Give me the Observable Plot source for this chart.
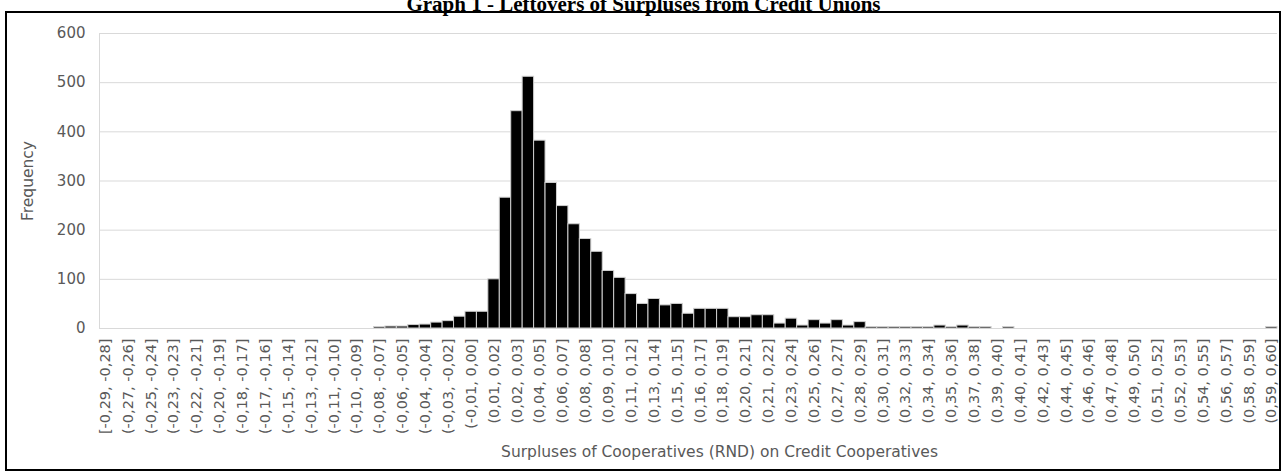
<!DOCTYPE html>
<html>
<head>
<meta charset="utf-8">
<script src="https://cdn.jsdelivr.net/npm/d3@7"></script>
<script src="https://cdn.jsdelivr.net/npm/@observablehq/plot@0.6"></script>
<style>
  html, body { margin: 0; padding: 0; background: #fff; overflow: hidden; }
  #wrap { position: relative; width: 1283px; height: 472px; overflow: hidden; background: #fff; }
  #chart { position: absolute; left: 0; top: 0; }
  #frame { position: absolute; left: 5px; top: 11px; width: 1276px; height: 460px; border: 2px solid #000; box-sizing: border-box; pointer-events: none; }
  #title { position: absolute; left: 2px; width: 1283px; top: -6px; text-align: center; font: bold 21px "Liberation Serif", "Times New Roman", serif; color: #000; line-height: 21px; white-space: nowrap; }
</style>
</head>
<body>
<div id="wrap">
  <div id="chart"></div>
  <div id="frame"></div>
  <div id="title">Graph 1 - Leftovers of Surpluses from Credit Unions</div>
</div>
<script>
// Visible category labels (Excel shows every other bin label)
const binLabels = [
  "[-0,29, -0,28]", "(-0,27, -0,26]", "(-0,25, -0,24]", "(-0,23, -0,23]", "(-0,22, -0,21]",
  "(-0,20, -0,19]", "(-0,18, -0,17]", "(-0,17, -0,16]", "(-0,15, -0,14]", "(-0,13, -0,12]",
  "(-0,11, -0,10]", "(-0,10, -0,09]", "(-0,08, -0,07]", "(-0,06, -0,05]", "(-0,04, -0,04]",
  "(-0,03, -0,02]", "(-0,01, 0,00]", "(0,01, 0,02]", "(0,02, 0,03]", "(0,04, 0,05]",
  "(0,06, 0,07]", "(0,08, 0,08]", "(0,09, 0,10]", "(0,11, 0,12]", "(0,13, 0,14]",
  "(0,15, 0,15]", "(0,16, 0,17]", "(0,18, 0,19]", "(0,20, 0,21]", "(0,21, 0,22]",
  "(0,23, 0,24]", "(0,25, 0,26]", "(0,27, 0,27]", "(0,28, 0,29]", "(0,30, 0,31]",
  "(0,32, 0,33]", "(0,34, 0,34]", "(0,35, 0,36]", "(0,37, 0,38]", "(0,39, 0,40]",
  "(0,40, 0,41]", "(0,42, 0,43]", "(0,44, 0,45]", "(0,46, 0,46]", "(0,47, 0,48]",
  "(0,49, 0,50]", "(0,51, 0,52]", "(0,52, 0,53]", "(0,54, 0,55]", "(0,56, 0,57]",
  "(0,58, 0,59]", "(0,59, 0,60]"
];

// Frequency of each of the 103 bins (left to right)
const frequency = [
  0, 0, 0, 0, 0, 0, 0, 0, 0, 0,
  0, 0, 0, 0, 0, 0, 0, 0, 0, 0,
  0, 0, 0, 0, 3, 4, 4, 7, 8, 12,
  15, 24, 34, 34, 100, 266, 442, 512, 382, 296,
  249, 212, 182, 156, 117, 103, 70, 50, 60, 47,
  50, 30, 40, 40, 40, 23, 23, 27, 27, 10,
  20, 6, 17, 10, 17, 6, 13, 3, 3, 3,
  3, 3, 3, 6, 3, 6, 3, 3, 0, 3,
  0, 0, 0, 0, 0, 0, 0, 0, 0, 0,
  0, 0, 0, 0, 0, 0, 0, 0, 0, 0,
  0, 0, 3
];

const yTicks = [0, 100, 200, 300, 400, 500, 600];

const data = frequency.map((count, bin) => ({bin, count}));
const binDomain = data.map(d => d.bin);
const labelledBins = binDomain.filter(b => b % 2 === 0);

const textColor = "#595959";

const chart = Plot.plot({
  width: 1283,
  height: 472,
  marginLeft: 99,
  marginRight: 6,
  marginTop: 33,
  marginBottom: 144,
  style: {fontFamily: "'DejaVu Sans', sans-serif", color: textColor, background: "transparent"},
  x: {type: "band", domain: binDomain, padding: 0},
  y: {domain: [0, 600]},
  marks: [
    Plot.gridY(yTicks, {stroke: "#d9d9d9", strokeOpacity: 1, strokeWidth: 1}),
    Plot.frame({anchor: "left", stroke: "#d9d9d9", strokeOpacity: 1}),
    Plot.barY(data.filter(d => d.count > 0), {x: "bin", y: "count", fill: "#000", stroke: "#cfcfcf", strokeWidth: 1}),
    Plot.axisY({ticks: yTicks, tickSize: 0, tickPadding: 14, label: null, fontSize: 15, fill: textColor}),
    Plot.axisX({ticks: labelledBins, tickFormat: b => binLabels[b / 2], tickRotate: -90, tickSize: 0, tickPadding: 10, label: null, fontSize: 14.5, fill: textColor}),
    Plot.text(["Frequency"], {frameAnchor: "left", textAnchor: "middle", dx: -71, rotate: -90, fontSize: 15.5, fill: textColor}),
    Plot.text(["Surpluses of Cooperatives (RND) on Credit Cooperatives"], {frameAnchor: "bottom", dy: 128, dx: 31, fontSize: 15.5, fill: textColor})
  ]
});
document.getElementById("chart").appendChild(chart);
</script>
</body>
</html>
